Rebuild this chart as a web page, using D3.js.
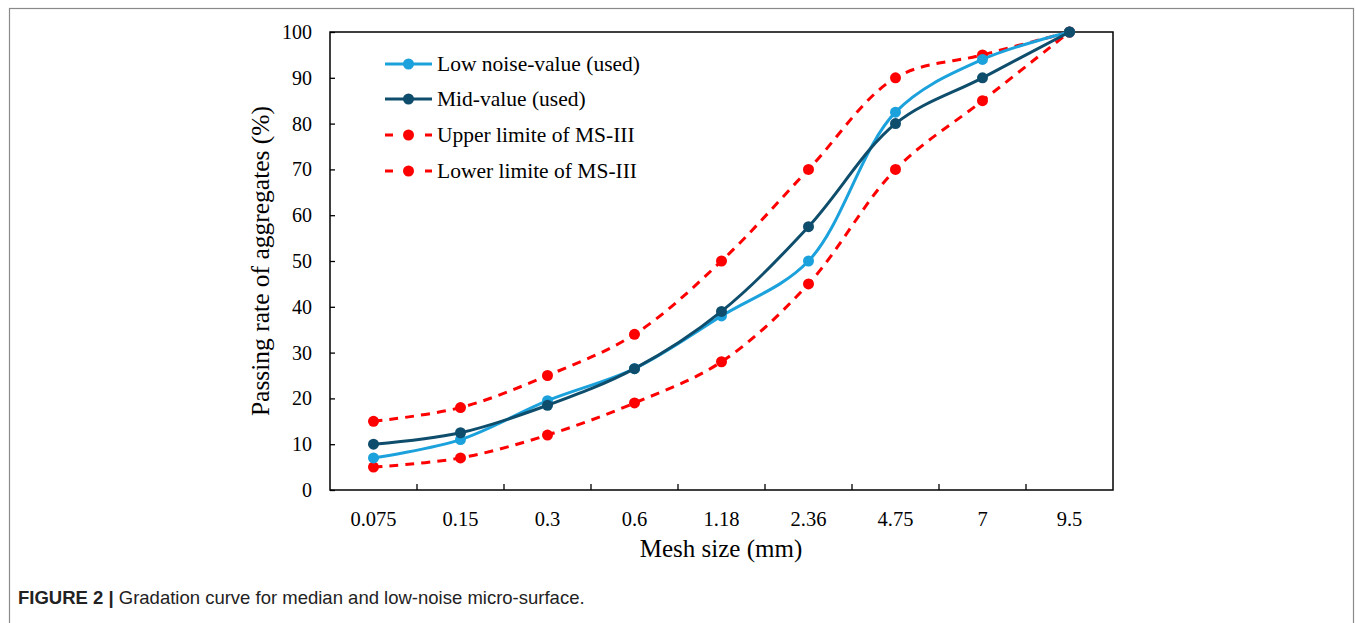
<!DOCTYPE html>
<html>
<head>
<meta charset="utf-8">
<script src="https://cdn.jsdelivr.net/npm/d3@7"></script>
<style>
  body { margin: 0; background: #fff; }
  svg { display: block; }
</style>
</head>
<body>
<svg id="chart"></svg>
<script>
let meshSizes = ['0.075','0.15','0.3','0.6','1.18','2.36','4.75','7','9.5']
let lowNoise = [7, 11, 19.5, 26.5, 38, 50, 82.5, 94, 100]
let midValue = [10, 12.5, 18.5, 26.5, 39, 57.5, 80, 90, 100]
let upperLimit = [15, 18, 25, 34, 50, 70, 90, 95, 100]
let lowerLimit = [5, 7, 12, 19, 28, 45, 70, 85, 100]
let yTicks = [0,10,20,30,40,50,60,70,80,90,100]

let seriesNames = ['Low noise-value (used)','Mid-value (used)','Upper limite of MS-III','Lower limite of MS-III']

let width = 1355
let height = 623
let plot = {left: 330, right: 1113, top: 32, bottom: 490}

let svg = d3.select('#chart').attr('width', width).attr('height', height)

// outer frame
svg.append('rect')
   .attr('x', 9.5).attr('y', 8.5)
   .attr('width', 1344).attr('height', 640)
   .attr('fill', 'none').attr('stroke', '#8a8a8a').attr('stroke-width', 1.2)

let xScale = d3.scaleBand()
               .domain(meshSizes)
               .range([plot.left, plot.right])
let yScale = d3.scaleLinear()
               .domain([0,100])
               .range([plot.bottom, plot.top])

let xc = (d) => xScale(d) + xScale.bandwidth()/2
let serif = 'Liberation Serif, Times New Roman, serif'

// plot border
svg.append('rect')
   .attr('x', plot.left).attr('y', plot.top)
   .attr('width', plot.right-plot.left).attr('height', plot.bottom-plot.top)
   .attr('fill', 'none').attr('stroke', '#000').attr('stroke-width', 1.5)

// y axis
let yAxis = d3.axisLeft(yScale).tickValues(yTicks).tickSizeInner(-5).tickSizeOuter(0).tickPadding(18)
let gy = svg.append('g').attr('transform','translate('+plot.left+',0)').call(yAxis)
gy.select('.domain').remove()
gy.selectAll('line').attr('stroke','#000').attr('stroke-width',1.3)
gy.selectAll('text').attr('font-family', serif).attr('font-size', 20).attr('fill','#000')

// x axis: ticks sit between categories
let xAxis = d3.axisBottom(xScale).tickSize(0).tickPadding(21)
let gx = svg.append('g').attr('transform','translate(0,'+plot.bottom+')').call(xAxis)
gx.select('.domain').remove()
gx.selectAll('text').attr('font-family', serif).attr('font-size', 20.5).attr('fill','#000')
svg.selectAll('.xtick')
   .data(meshSizes.slice(1))
   .enter()
   .append('line')
   .attr('x1', (d)=>xScale(d)).attr('x2', (d)=>xScale(d))
   .attr('y1', plot.bottom).attr('y2', plot.bottom-6)
   .attr('stroke','#000').attr('stroke-width',1.3)

// axis titles
svg.append('text')
   .attr('x', 721).attr('y', 557)
   .attr('text-anchor','middle')
   .attr('font-family', serif).attr('font-size', 25)
   .text('Mesh size (mm)')
svg.append('text')
   .attr('transform','translate(269,'+((plot.top+plot.bottom)/2)+') rotate(-90)')
   .attr('text-anchor','middle')
   .attr('font-family', serif).attr('font-size', 25.5)
   .text('Passing rate of aggregates (%)')

let series = [
  {name: seriesNames[0], values: lowNoise, color: '#1ba1db', dash: null},
  {name: seriesNames[1], values: midValue, color: '#0e4d6c', dash: null},
  {name: seriesNames[2], values: upperLimit, color: '#ff0000', dash: '9,7'},
  {name: seriesNames[3], values: lowerLimit, color: '#ff0000', dash: '9,7'}
]

let line = d3.line()
             .x((d,i)=>xc(meshSizes[i]))
             .y((d)=>yScale(d))
             .curve(d3.curveCatmullRom.alpha(0.5))

// draw red limits first, then used curves
let order = [2,3,0,1]
order.forEach((k) => {
  let s = series[k]
  svg.append('path')
     .attr('d', line(s.values))
     .attr('fill','none')
     .attr('stroke', s.color)
     .attr('stroke-width', 3)
     .attr('stroke-dasharray', s.dash)
  svg.selectAll('.pt'+k)
     .data(s.values)
     .enter()
     .append('circle')
     .attr('cx', (d,i)=>xc(meshSizes[i]))
     .attr('cy', (d)=>yScale(d))
     .attr('r', 5.5)
     .attr('fill', s.color)
})

// legend
let legendY = [64, 99, 135, 171]
series.forEach((s,i) => {
  let g = svg.append('g')
  g.append('line')
   .attr('x1', 385).attr('x2', 432)
   .attr('y1', legendY[i]).attr('y2', legendY[i])
   .attr('stroke', s.color).attr('stroke-width', 3)
   .attr('stroke-dasharray', s.dash ? '8,12' : null)
  g.append('circle')
   .attr('cx', 408.5).attr('cy', legendY[i]).attr('r', 5.5)
   .attr('fill', s.color)
  g.append('text')
   .attr('x', 437).attr('y', legendY[i]+7)
   .attr('font-family', serif).attr('font-size', 21.5)
   .text(s.name)
})

// caption
let cap = svg.append('text')
   .attr('x', 18).attr('y', 604)
   .attr('font-family', 'Liberation Sans, Arial, sans-serif').attr('font-size', 18.5)
   .attr('fill', '#222')
cap.append('tspan').attr('font-weight','bold').text('FIGURE 2 | ')
cap.append('tspan').text('Gradation curve for median and low-noise micro-surface.')
</script>
</body>
</html>
